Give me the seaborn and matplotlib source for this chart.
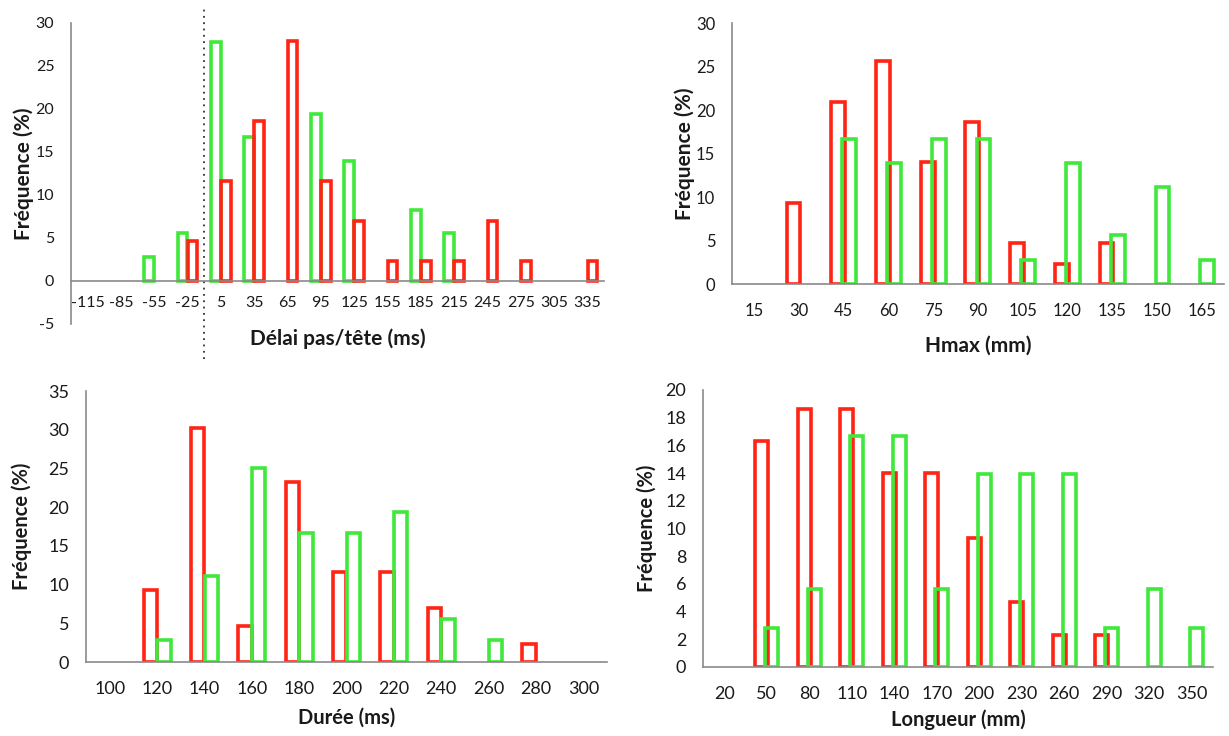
import matplotlib
matplotlib.use("Agg")
import matplotlib.pyplot as plt
import numpy as np
import pandas as pd
import seaborn as sns

# ---- data (frequencies in %) ----
delai_cats = [-115, -85, -55, -25, 5, 35, 65, 95, 125, 155, 185, 215, 245, 275, 305, 335]
delai_green = [0, 0, 2.8, 5.6, 27.8, 16.7, 0, 19.4, 13.9, 0, 8.3, 5.6, 0, 0, 0, 0]
delai_red = [0, 0, 0, 4.7, 11.6, 18.6, 27.9, 11.6, 7.0, 2.3, 2.3, 2.3, 7.0, 2.3, 0, 2.3]

hmax_cats = [15, 30, 45, 60, 75, 90, 105, 120, 135, 150, 165]
hmax_red = [0, 9.3, 20.9, 25.6, 14.0, 18.6, 4.7, 2.3, 4.7, 0, 0]
hmax_green = [0, 0, 16.7, 13.9, 16.7, 16.7, 2.8, 13.9, 5.6, 11.1, 2.8]

duree_cats = [100, 120, 140, 160, 180, 200, 220, 240, 260, 280, 300]
duree_red = [0, 9.3, 30.2, 4.7, 23.3, 11.6, 11.6, 7.0, 0, 2.3, 0]
duree_green = [0, 2.8, 11.1, 25.0, 16.7, 16.7, 19.4, 5.6, 2.8, 0, 0]

long_cats = [20, 50, 80, 110, 140, 170, 200, 230, 260, 290, 320, 350]
long_red = [0, 16.3, 18.6, 18.6, 14.0, 14.0, 9.3, 4.7, 2.3, 2.3, 0, 0]
long_green = [0, 2.8, 5.6, 16.7, 16.7, 5.6, 13.9, 13.9, 13.9, 2.8, 5.6, 2.8]

RED = "#ff2414"
GREEN = "#3fe83a"
AXIS = "#8a8a8a"
TEXT = "#1a1a1a"

sns.set_style("white")
plt.rcParams["font.family"] = ["Lato", "DejaVu Sans"]
plt.rcParams["axes.unicode_minus"] = False


def draw_panel(ax, cats, first, second, colors, ylim, yticks, xlabel,
               offset, bar_w, tick_size, xpad, labelpad_x, labelpad_y,
               label_size=14.5, zero_spine=False):
    df = pd.DataFrame({
        "cat": cats * 2,
        "serie": ["a"] * len(cats) + ["b"] * len(cats),
        "val": first + second,
    })
    df = df[df["val"] > 0]
    sns.barplot(data=df, x="cat", y="val", hue="serie", order=cats,
                hue_order=["a", "b"], palette=colors, fill=False,
                width=0.5, linewidth=2.6, errorbar=None, legend=False, ax=ax)

    # Excel-like overlapping clustered columns
    for p in ax.patches:
        cx = p.get_x() + p.get_width() / 2
        k = round(cx)
        side = 1 if cx > k else -1
        p.set_x(k + side * offset - bar_w / 2)
        p.set_width(bar_w)
        p.set_joinstyle("miter")

    n = len(cats)
    ax.set_xlim(-0.5, n - 0.5)
    ax.set_ylim(*ylim)
    ax.set_yticks(yticks)
    ax.set_xticks(range(n))
    ax.set_xticklabels([str(c) for c in cats])
    ax.set_xticks(np.arange(-0.5, n, 1), minor=True)

    for s in ["top", "right"]:
        ax.spines[s].set_visible(False)
    for s in ["left", "bottom"]:
        ax.spines[s].set_color(AXIS)
        ax.spines[s].set_linewidth(1.2)
    if zero_spine:
        ax.spines["bottom"].set_position(("data", 0))

    ax.tick_params(axis="x", which="major", length=0, pad=xpad,
                   labelsize=tick_size, labelcolor=TEXT)
    ax.tick_params(axis="x", which="minor", length=5, width=1, color=AXIS,
                   direction="out")
    ax.tick_params(axis="y", length=4, width=1, color=AXIS, direction="out",
                   pad=8, labelsize=tick_size, labelcolor=TEXT)

    ax.set_xlabel(xlabel, fontsize=label_size, fontweight="bold", color=TEXT,
                  labelpad=labelpad_x)
    ax.set_ylabel("Fréquence (%)", fontsize=label_size, fontweight="bold",
                  color=TEXT, labelpad=labelpad_y)
    ax.grid(False)


fig = plt.figure(figsize=(12.29, 7.36), dpi=100)
ax1 = fig.add_axes([0.0578, 0.5598, 0.4337, 0.409])
ax2 = fig.add_axes([0.5956, 0.6141, 0.4003, 0.3546])
ax3 = fig.add_axes([0.0700, 0.1005, 0.4239, 0.3682])
ax4 = fig.add_axes([0.5720, 0.0938, 0.4150, 0.3764])

draw_panel(ax1, delai_cats, delai_green, delai_red, [GREEN, RED], (-5, 30),
           range(-5, 31, 5), "Délai pas/tête (ms)", 0.15, 0.29, 11.5, 11, 13, 1,
           label_size=15, zero_spine=True)
draw_panel(ax2, hmax_cats, hmax_red, hmax_green, [RED, GREEN], (0, 30),
           range(0, 31, 5), "Hmax (mm)", 0.125, 0.31, 12, 14, 12, 1,
           label_size=15)
draw_panel(ax3, duree_cats, duree_red, duree_green, [RED, GREEN], (0, 35),
           range(0, 36, 5), "Durée (ms)", 0.145, 0.28, 13, 14, 7, 12)
draw_panel(ax4, long_cats, long_red, long_green, [RED, GREEN], (0, 20),
           range(0, 21, 2), "Longueur (mm)", 0.12, 0.30, 13, 14, 5, 6)

# dotted separator between negative and positive delays
ax1.axvline(3.5, ymin=-0.115, ymax=1.05, clip_on=False, color="#333333",
            linestyle=(0, (1, 2.5)), linewidth=1.3)

fig.savefig("out.png", dpi=100)
plt.close(fig)
